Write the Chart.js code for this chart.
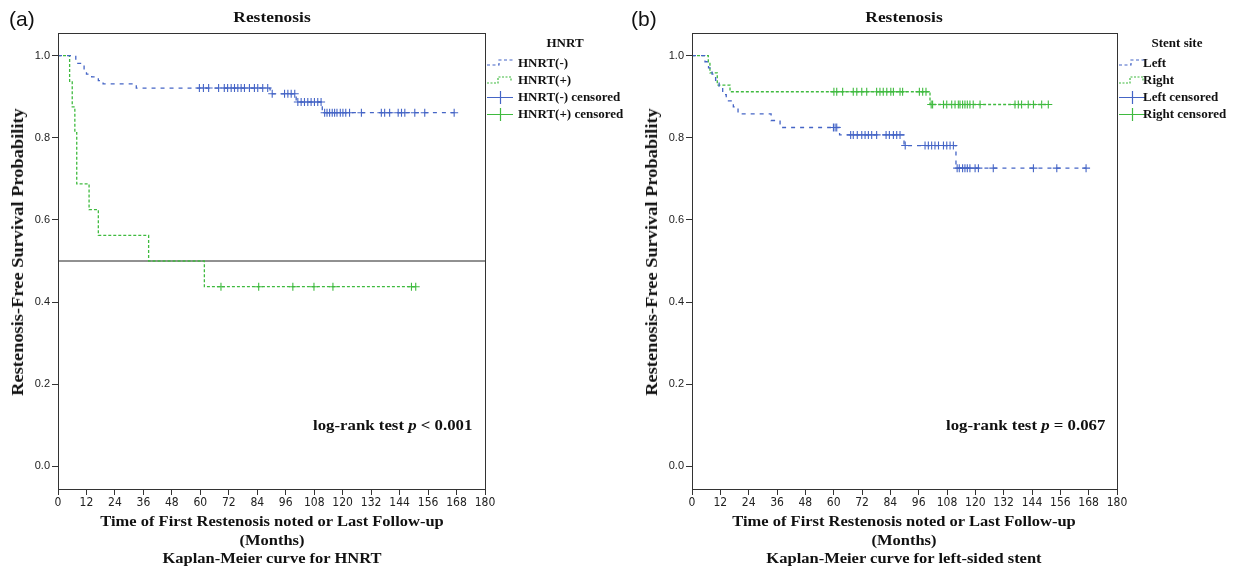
<!DOCTYPE html>
<html>
<head>
<meta charset="utf-8">
<script src="https://cdn.jsdelivr.net/npm/chart.js@4.4.0/dist/chart.umd.min.js"></script>
<style>
body { margin: 0; width: 1238px; height: 570px; position: relative; background: #fff; overflow: hidden; }
canvas { position: absolute; top: 0; }
.t { position: absolute; font-family: 'Liberation Serif', serif; font-weight: bold; color: #111; white-space: nowrap; }
.c { transform: translate(-50%, -50%); }
.l { transform: translateY(-50%); }
.title { font-size: 15px; transform: translate(-50%, -50%) scaleX(1.16); }
.xt { font-size: 15px; transform: translate(-50%, -50%) scaleX(1.1); }
.lr { font-size: 15px; transform: translateY(-50%) scaleX(1.12); transform-origin: left center; }
.ytitle { font-size: 16px; transform: translate(-50%, -50%) rotate(-90deg) scaleX(1.15); }
.leg { font-size: 13px; }
.panel { position: absolute; font-family: 'Liberation Sans', Arial, sans-serif; font-size: 21px; color: #111; }
</style>
</head>
<body>
<canvas id="chartA" width="640" height="570" style="left:0"></canvas>
<canvas id="chartB" width="604" height="570" style="left:634px"></canvas>

<div class="panel" style="left:9px;top:7px">(a)</div>
<div class="t title" style="left:272px;top:17px">Restenosis</div>
<div class="t ytitle" style="left:18px;top:252px">Restenosis-Free Survival Probability</div>
<div class="t xt" style="left:272px;top:521px">Time of First Restenosis noted or Last Follow-up</div>
<div class="t xt" style="left:272px;top:540px">(Months)</div>
<div class="t xt" style="left:272px;top:558px">Kaplan-Meier curve for HNRT</div>
<div class="t c leg" style="left:565px;top:43px">HNRT</div>
<div class="t l leg" style="left:518px;top:63px">HNRT(-)</div>
<div class="t l leg" style="left:518px;top:80px">HNRT(+)</div>
<div class="t l leg" style="left:518px;top:97px">HNRT(-) censored</div>
<div class="t l leg" style="left:518px;top:114px">HNRT(+) censored</div>
<div class="t lr" style="left:313px;top:425px">log-rank test <i>p</i> &lt; 0.001</div>

<div class="panel" style="left:631px;top:7px">(b)</div>
<div class="t title" style="left:904px;top:17px">Restenosis</div>
<div class="t ytitle" style="left:652px;top:252px">Restenosis-Free Survival Probability</div>
<div class="t xt" style="left:904px;top:521px">Time of First Restenosis noted or Last Follow-up</div>
<div class="t xt" style="left:904px;top:540px">(Months)</div>
<div class="t xt" style="left:904px;top:558px">Kaplan-Meier curve for left-sided stent</div>
<div class="t c leg" style="left:1177px;top:43px">Stent site</div>
<div class="t l leg" style="left:1143px;top:63px">Left</div>
<div class="t l leg" style="left:1143px;top:80px">Right</div>
<div class="t l leg" style="left:1143px;top:97px">Left censored</div>
<div class="t l leg" style="left:1143px;top:114px">Right censored</div>
<div class="t lr" style="left:946px;top:425px">log-rank test <i>p</i> = 0.067</div>

<script>
const xTicks = [0, 12, 24, 36, 48, 60, 72, 84, 96, 108, 120, 132, 144, 156, 168, 180]
const yTicks = [0, 0.2, 0.4, 0.6, 0.8, 1.0]

// (a) HNRT
const hnrtNegTimes = [0, 7.5, 11, 12, 14.2, 17, 19, 33, 89.4, 100.4, 111.4]
const hnrtNegSurv = [1, 0.981, 0.963, 0.955, 0.948, 0.939, 0.931, 0.921, 0.907, 0.887, 0.861]
const hnrtNegCensored = [59.6, 61.3, 63.5, 67.7, 70.1, 71.5, 73, 74.4, 75.8, 77.2, 78.6, 80.7, 82.8, 84.2, 86.3, 88.4,
  90.3, 95.5, 96.9, 98.3, 99.8, 101.1, 102.5, 103.9, 105.3, 106.7, 108.1, 109.5, 110.9,
  112.4, 113.4, 114.5, 115.6, 116.6, 117.6, 119, 120.1, 121.3, 122.9, 127.9, 136.3, 137.7, 139.8,
  143.4, 144.8, 146.2, 150.4, 154.6, 167]
const hnrtPosTimes = [0, 4.9, 6.0, 7.1, 7.9, 13.1, 17, 38.2, 61.7]
const hnrtPosSurv = [1, 0.9375, 0.875, 0.8125, 0.6875, 0.625, 0.5625, 0.5, 0.4375]
const hnrtPosCensored = [68.7, 84.6, 99, 107.9, 115.9, 149, 150.8]
const medianLine = 0.5

// (b) stent site
const leftTimes = [0, 5.5, 7, 8.5, 10, 11.5, 13, 14.5, 17.5, 19.5, 33.5, 37.3, 62.5, 89.8, 111.8]
const leftSurv = [1, 0.985, 0.97, 0.955, 0.94, 0.925, 0.905, 0.89, 0.875, 0.858, 0.842, 0.825, 0.807, 0.781, 0.726]
const leftCensored = [59.9, 60.6, 61.3, 67.2, 68.3, 70, 71.9, 73.3, 74.7, 76.1, 78.2, 82.2, 83.6, 85.3, 86.7, 88.1,
  90.3, 98.7, 100.1, 101.5, 102.9, 104.4, 106.5, 107.9, 109.3, 110.7,
  112.3, 113.2, 114.6, 115.6, 116.6, 117.7, 119.9, 121.3, 127.6, 144.6, 154.5, 166.9]
const rightTimes = [0, 6.9, 7.6, 10.7, 16.1, 100.8]
const rightSurv = [1, 0.985, 0.958, 0.928, 0.912, 0.881]
const rightCensored = [60.1, 61.3, 63.8, 68.3, 69.8, 71.9, 74, 78.2, 79.6, 81, 82.5, 84.2, 85.3, 88.1, 89.2,
  96.3, 97.7, 99.1, 101.3, 101.9, 106.5, 107.9, 110, 111.4, 112.8, 113.5, 114.6, 115.6, 116.6, 117.7,
  119.1, 122, 136.8, 138.2, 139.6, 142.4, 144.6, 148.1, 150.9]

const BLUE = '#4565c6'
const GREEN = '#3fba3f'
const AXIS = '#333'

const survAt = (times, surv, t) => {
    let s = surv[0]
    times.forEach((ti, i) => { if (ti <= t) s = surv[i] })
    return s
}

const curveLine = (times, surv, censored, color, dash) => {
    const pts = times.map((t, i) => ({ x: t, y: surv[i] }))
    const last = censored[censored.length - 1]
    pts.push({ x: last, y: survAt(times, surv, last) })
    return {
        data: pts, showLine: true, stepped: 'before', borderColor: color, borderWidth: 1.3,
        borderDash: dash, pointRadius: 0, order: 2
    }
}

const censorMarks = (times, surv, censored, color) => ({
    data: censored.map(t => ({ x: t, y: survAt(times, surv, t) })),
    showLine: false, pointStyle: 'cross', pointRadius: 4, borderColor: color, borderWidth: 1.1, order: 1
})

const boxPlugin = {
    id: 'box',
    afterDraw(chart) {
        const { ctx, chartArea: a } = chart
        ctx.save()
        ctx.strokeStyle = AXIS
        ctx.lineWidth = 1
        ctx.strokeRect(Math.round(a.left) + 0.5, Math.round(a.top) + 0.5, a.right - a.left, a.bottom - a.top)
        ctx.restore()
    }
}

const legendSymbols = (rows) => ({
    id: 'legendSymbols',
    afterDraw(chart) {
        const { ctx, chartArea: a } = chart
        const x0 = a.right + 2
        ctx.save()
        ctx.lineWidth = 1.2
        // step lines
        ctx.setLineDash([3, 2.5])
        ctx.strokeStyle = BLUE
        ctx.beginPath()
        ctx.moveTo(x0, rows[0] + 2); ctx.lineTo(x0 + 12, rows[0] + 2)
        ctx.lineTo(x0 + 12, rows[0] - 3); ctx.lineTo(x0 + 26, rows[0] - 3)
        ctx.stroke()
        ctx.strokeStyle = GREEN
        ctx.setLineDash([2, 1.5])
        ctx.beginPath()
        ctx.moveTo(x0, rows[1] + 3); ctx.lineTo(x0 + 11, rows[1] + 3)
        ctx.lineTo(x0 + 11, rows[1] - 3); ctx.lineTo(x0 + 24, rows[1] - 3)
        ctx.lineTo(x0 + 24, rows[1] + 2)
        ctx.stroke()
        // censored symbols
        ctx.setLineDash([])
        ;[[rows[2], BLUE], [rows[3], GREEN]].forEach(([y, c]) => {
            ctx.strokeStyle = c
            ctx.beginPath()
            ctx.moveTo(x0, y + 0.5); ctx.lineTo(x0 + 26, y + 0.5)
            ctx.moveTo(x0 + 13.5, y - 6); ctx.lineTo(x0 + 13.5, y + 7)
            ctx.stroke()
        })
        ctx.restore()
    }
})

const makeChart = (canvasId, datasets, padRight) => new Chart(document.getElementById(canvasId), {
    type: 'scatter',
    data: { datasets },
    options: {
        responsive: false,
        animation: false,
        devicePixelRatio: 1,
        layout: { padding: { left: 0, right: padRight, top: 33, bottom: 0 } },
        plugins: { legend: { display: false }, tooltip: { enabled: false } },
        scales: {
            x: {
                type: 'linear', min: 0, max: 180,
                afterBuildTicks: s => { s.ticks = xTicks.map(v => ({ value: v })) },
                afterFit: s => { s.height = 81 },
                grid: { drawOnChartArea: false, tickLength: 6, color: AXIS },
                border: { color: AXIS, width: 1 },
                ticks: {
                    padding: 1, color: '#222', maxRotation: 0, autoSkip: false,
                    font: { family: "'Liberation Sans Narrow', 'DejaVu Sans Condensed', 'Liberation Sans', sans-serif", size: 12 }
                }
            },
            y: {
                type: 'linear', min: -0.055, max: 1.055,
                afterBuildTicks: s => { s.ticks = yTicks.map(v => ({ value: v })) },
                afterFit: s => { s.width = 58 },
                grid: { drawOnChartArea: false, tickLength: 6, color: AXIS },
                border: { color: AXIS, width: 1 },
                ticks: {
                    padding: 2, color: '#222', callback: v => v.toFixed(1),
                    font: { family: "'Liberation Sans', Arial, sans-serif", size: 11 }
                }
            }
        }
    },
    plugins: [boxPlugin, legendSymbols([63, 80, 97, 114])]
})

makeChart('chartA', [
    {
        data: [{ x: xTicks[0], y: medianLine }, { x: xTicks[xTicks.length - 1], y: medianLine }],
        showLine: true, borderColor: '#222', borderWidth: 1, pointRadius: 0, order: 3
    },
    curveLine(hnrtNegTimes, hnrtNegSurv, hnrtNegCensored, BLUE, [4, 5]),
    curveLine(hnrtPosTimes, hnrtPosSurv, hnrtPosCensored, GREEN, [3, 2]),
    censorMarks(hnrtNegTimes, hnrtNegSurv, hnrtNegCensored, BLUE),
    censorMarks(hnrtPosTimes, hnrtPosSurv, hnrtPosCensored, GREEN)
], 155)

makeChart('chartB', [
    curveLine(leftTimes, leftSurv, leftCensored, BLUE, [4, 5]),
    curveLine(rightTimes, rightSurv, rightCensored, GREEN, [3, 2]),
    censorMarks(leftTimes, leftSurv, leftCensored, BLUE),
    censorMarks(rightTimes, rightSurv, rightCensored, GREEN)
], 121)
</script>
</body>
</html>
